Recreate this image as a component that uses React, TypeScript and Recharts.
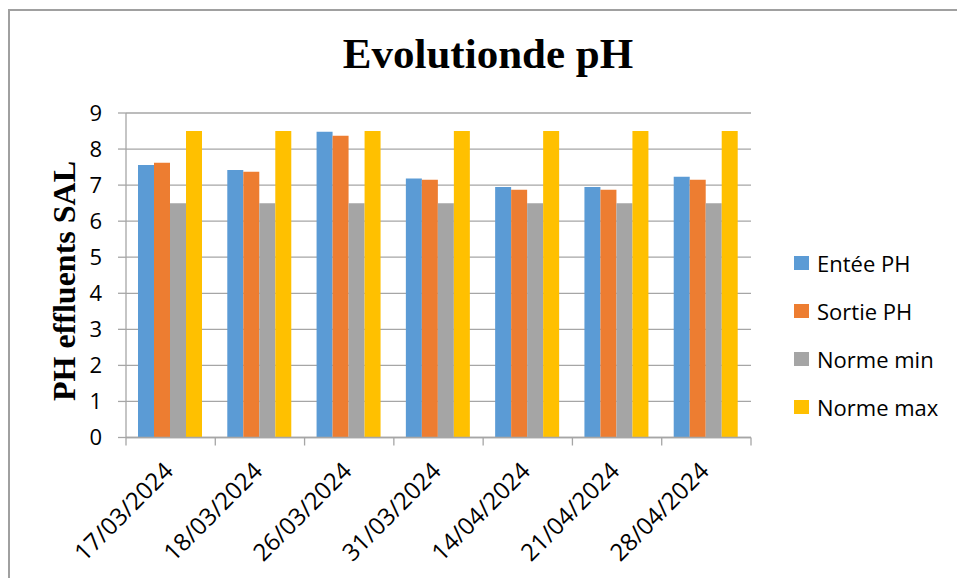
import { BarChart, Bar, XAxis, YAxis, CartesianGrid, Legend } from 'recharts';

// pH readings per sampling date
const dates = [
  '17/03/2024',
  '18/03/2024',
  '26/03/2024',
  '31/03/2024',
  '14/04/2024',
  '21/04/2024',
  '28/04/2024',
];
const entreePH = [7.56, 7.42, 8.48, 7.18, 6.95, 6.95, 7.23];
const sortiePH = [7.62, 7.37, 8.37, 7.15, 6.87, 6.87, 7.15];
const normeMin = [6.5, 6.5, 6.5, 6.5, 6.5, 6.5, 6.5];
const normeMax = [8.5, 8.5, 8.5, 8.5, 8.5, 8.5, 8.5];
const yTicks = [0, 1, 2, 3, 4, 5, 6, 7, 8, 9];

const series = [
  { key: 'entree', name: 'Entée PH', color: '#5b9bd5' },
  { key: 'sortie', name: 'Sortie PH', color: '#ed7d31' },
  { key: 'min', name: 'Norme min', color: '#a5a5a5' },
  { key: 'max', name: 'Norme max', color: '#ffc000' },
];

const data = dates.map((d, i) => ({
  date: d,
  entree: entreePH[i],
  sortie: sortiePH[i],
  min: normeMin[i],
  max: normeMax[i],
}));

const W = 957;
const H = 578;
const PLOT_LEFT = 126;
const PLOT_RIGHT = 751;
const PLOT_TOP = 113;
const PLOT_BOTTOM = 437.5;
const BAND = (PLOT_RIGHT - PLOT_LEFT) / dates.length;
const AXIS_GRAY = '#a6a6a6';
const SANS = '"Open Sans", sans-serif';

function DateTick(props: any) {
  const { x, y, payload, index } = props;
  const left = x - BAND / 2;
  const tx = x + 4;
  const ty = y + 35;
  return (
    <g>
      <line x1={left} y1={y} x2={left} y2={y + 8} stroke={AXIS_GRAY} strokeWidth={1.3} />
      {index === dates.length - 1 && (
        <line x1={x + BAND / 2} y1={y} x2={x + BAND / 2} y2={y + 8} stroke={AXIS_GRAY} strokeWidth={1.3} />
      )}
      <text
        x={tx}
        y={ty}
        textAnchor="end"
        fill="#000"
        fontSize={24}
        fontFamily={SANS}
        transform={`rotate(-45, ${tx}, ${ty})`}
      >
        {payload.value}
      </text>
    </g>
  );
}

function SideLegend() {
  return (
    <div style={{ fontFamily: SANS, fontSize: 22, color: '#000' }}>
      {series.map((s) => (
        <div key={s.key} style={{ height: 48, display: 'flex', alignItems: 'center' }}>
          <span style={{ width: 15, height: 14, background: s.color, display: 'inline-block', marginRight: 8 }} />
          <span>{s.name}</span>
        </div>
      ))}
    </div>
  );
}

export default function App() {
  return (
    <div style={{ position: 'absolute', left: 0, top: 0, width: W, height: H, overflow: 'hidden', background: '#fff' }}>
      <div
        style={{
          position: 'absolute',
          left: 8,
          top: 9,
          width: W + 50,
          height: H + 50,
          borderTop: '2px solid #a0a0a0',
          borderLeft: '2px solid #a0a0a0',
        }}
      />
      <div
        style={{
          position: 'absolute',
          left: 488,
          top: 32,
          transform: 'translateX(-50%)',
          fontFamily: '"Liberation Serif", serif',
          fontWeight: 'bold',
          fontSize: 43,
          lineHeight: '43px',
          whiteSpace: 'nowrap',
        }}
      >
        Evolutionde pH
      </div>
      <div
        style={{
          position: 'absolute',
          left: 64,
          top: 281,
          transform: 'translate(-50%, -50%) rotate(-90deg)',
          fontFamily: '"Liberation Serif", serif',
          fontWeight: 'bold',
          fontSize: 32,
          lineHeight: '32px',
          whiteSpace: 'nowrap',
        }}
      >
        PH effluents SAL
      </div>
      <BarChart
        width={W}
        height={H}
        data={data}
        margin={{ top: PLOT_TOP, right: W - PLOT_RIGHT, bottom: H - PLOT_BOTTOM - 100, left: PLOT_LEFT - 40 }}
        barCategoryGap={12}
        barGap={0}
        style={{ position: 'absolute', left: 0, top: 0 }}
      >
        <CartesianGrid vertical={false} stroke={AXIS_GRAY} strokeWidth={1.3} />
        <XAxis
          dataKey="date"
          height={100}
          interval={0}
          tickLine={false}
          tickSize={0}
          tickMargin={0}
          axisLine={{ stroke: AXIS_GRAY, strokeWidth: 1.5 }}
          tick={<DateTick />}
        />
        <YAxis
          width={40}
          domain={[0, 9]}
          ticks={yTicks}
          interval={0}
          tickSize={8}
          tickMargin={16}
          tickLine={{ stroke: AXIS_GRAY, strokeWidth: 1.3 }}
          axisLine={{ stroke: AXIS_GRAY, strokeWidth: 1.3 }}
          tick={{ fill: '#000', fontSize: 22, fontFamily: SANS }}
        />
        <Legend
          layout="horizontal"
          verticalAlign="middle"
          align="center"
          content={<SideLegend />}
          wrapperStyle={{ left: 794, top: 239, width: 160 }}
        />
        {series.map((s) => (
          <Bar key={s.key} dataKey={s.key} name={s.name} fill={s.color} isAnimationActive={false} />
        ))}
      </BarChart>
    </div>
  );
}
